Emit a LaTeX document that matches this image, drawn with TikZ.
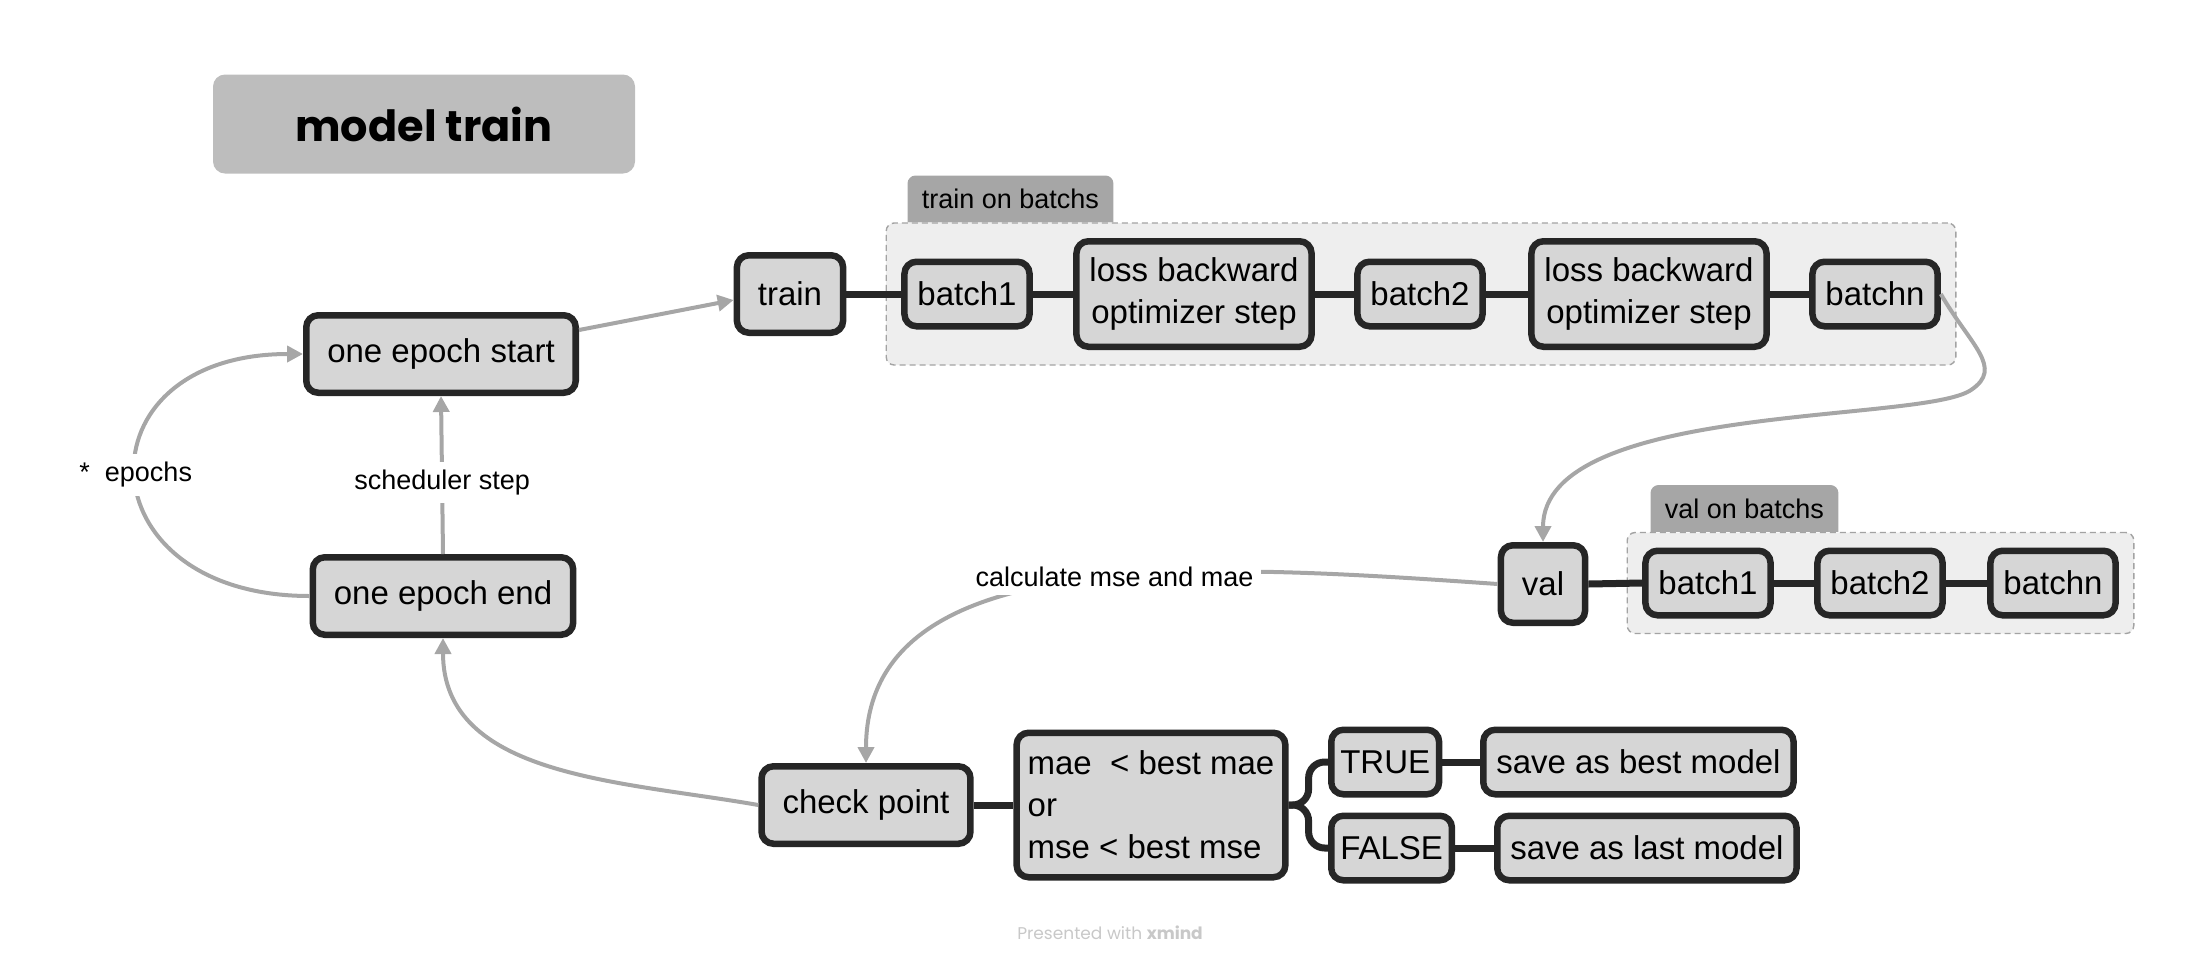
\documentclass[tikz,border=0pt]{standalone}
\usepackage{fontspec}
\setmainfont{Liberation Sans}
\newfontfamily\titlefont{Poppins}
\usetikzlibrary{arrows.meta,positioning,fit,backgrounds}

\definecolor{topicfill}{HTML}{D6D6D6}
\definecolor{topicline}{HTML}{262626}
\definecolor{grpfill}{HTML}{EEEEEE}
\definecolor{grpline}{HTML}{A3A3A3}
\definecolor{tabfill}{HTML}{A6A6A6}
\definecolor{titlefill}{HTML}{BDBDBD}
\definecolor{flowgray}{HTML}{A6A6A6}
\definecolor{wmgray}{HTML}{C8C8C8}

\tikzset{
  topic/.style={draw=topicline, line width=3.25pt, fill=topicfill,
    rounded corners=6pt, font=\fontsize{16.5}{21}\selectfont,
    minimum height=38.75pt, inner xsep=10.5pt},
  subtopic/.style={topic, minimum height=32.25pt, inner xsep=6.5pt},
  link/.style={draw=topicline, line width=3.5pt},
  flow/.style={draw=flowgray, line width=2pt, -{Triangle[length=8pt,width=8pt]}},
  flowlabel/.style={fill=white, font=\fontsize{13.5}{16}\selectfont, inner sep=4pt},
  grpbox/.style={draw=grpline, fill=grpfill, dash pattern=on 3pt off 2pt,
    line width=0.7pt, rounded corners=4pt, inner sep=7.5pt},
  tablabel/.style={font=\fontsize{13.5}{16}\selectfont, minimum height=23pt,
    inner xsep=7pt, anchor=south west}
}

\begin{document}
\begin{tikzpicture}[x=0.5pt,y=0.5pt]
\useasboundingbox (0,0) rectangle (2212,-960);

%title
\node[fill=titlefill, rounded corners=6pt, minimum width=211pt, minimum height=49.5pt,
  font=\titlefont\bfseries\fontsize{21.5}{26}\selectfont] (title) at (424,-124) {model train};

%epoch loop
\node[topic] (oes) at (441,-354) {one epoch start};
\node[topic] (oee) at (443,-596) {one epoch end};

%train on batchs
\node[topic] (train) at (790,-294) {train};
\node[subtopic] (tb1) at (967,-294) {batch1};
\node[subtopic, align=center, minimum height=52.75pt] (tloss1) at (1194,-294) {loss backward\\optimizer step};
\node[subtopic] (tb2) at (1420,-294) {batch2};
\node[subtopic, align=center, minimum height=52.75pt] (tloss2) at (1649,-294) {loss backward\\optimizer step};
\node[subtopic] (tbn) at (1875,-294) {batchn};

%val on batchs
\node[topic] (val) at (1543,-584) {val};
\node[subtopic] (vb1) at (1708,-583) {batch1};
\node[subtopic] (vb2) at (1880,-583) {batch2};
\node[subtopic] (vbn) at (2053,-583) {batchn};

%check point
\node[topic] (ckpt) at (866,-805) {check point};
\node[subtopic, align=left, minimum height=72.25pt, inner xsep=5.5pt] (cond) at (1151,-805)
  {mae\ \ < best mae\\or\\mse < best mse};
\node[subtopic, inner xsep=4.5pt, anchor=west] (ctrue) at (1328,-762) {TRUE};
\node[subtopic, inner xsep=4.5pt, anchor=west] (cfalse) at (1328,-848) {FALSE};
\node[subtopic, anchor=west] (sbest) at (1480,-762) {save as best model};
\node[subtopic, anchor=west] (slast) at (1494,-848) {save as last model};

\begin{scope}[on background layer]
\node[grpbox, fit=(tb1)(tloss1)(tb2)(tloss2)(tbn)] (tgrp) {};
\node[grpbox, fit=(vb1)(vb2)(vbn)] (vgrp) {};
\end{scope}

\node[tablabel] (ttab) at ([xshift=11pt]tgrp.north west) {train on batchs};
\node[tablabel] (vtab) at ([xshift=12pt]vgrp.north west) {val on batchs};
\begin{scope}[on background layer]
\fill[tabfill, rounded corners=4pt] (ttab.south west) -- (ttab.north west) -- (ttab.north east) -- (ttab.south east);
\fill[tabfill, rounded corners=4pt] (vtab.south west) -- (vtab.north west) -- (vtab.north east) -- (vtab.south east);
\end{scope}

%tree lines
\draw[link] (train.east) -- (tb1.west);
\draw[link] (tb1.east) -- (tloss1.west);
\draw[link] (tloss1.east) -- (tb2.west);
\draw[link] (tb2.east) -- (tloss2.west);
\draw[link] (tloss2.east) -- (tbn.west);
\draw[link] (val.east) -- (vb1.west);
\draw[link] (vb1.east) -- (vb2.west);
\draw[link] (vb2.east) -- (vbn.west);
\draw[link] (ckpt.east) -- (cond.west);
\draw[link, rounded corners=8pt] (cond.east) -- ++(20,0) |- (ctrue.west);
\draw[link, rounded corners=8pt] (cond.east) -- ++(20,0) |- (cfalse.west);
\draw[link] (ctrue.east) -- (sbest.west);
\draw[link] (cfalse.east) -- (slast.west);

%relationships
\coordinate (bendv) at (1971,-390);
\draw[flow] ([yshift=12pt]oes.east) -- ([yshift=-3pt]train.west);
\draw[flow] (oee.north) -- node[flowlabel, pos=0.45] (sched) {scheduler step} (oes.south);
\draw[flow] (oee.west) to[out=180,in=180,looseness=2.4] node[flowlabel] (epochs) {*\ \ epochs} (oes.west);
\draw[flow] (tbn.east) to[out=-60,in=34,out distance=30pt,in distance=20pt] (bendv)
  to[out=214,in=90,out distance=30pt,in distance=70pt] (val.north);
\draw[flow] (val.west) to[out=176,in=90,out distance=150pt,in distance=110pt]
  node[flowlabel, pos=0.44] (calc) {calculate mse and mae} (ckpt.north);
\draw[flow] (ckpt.west) to[out=170,in=-90] (oee.south);

\node[text=wmgray, font=\titlefont\fontsize{8.5}{10}\selectfont] (credit) at (1110,-933)
  {Presented with \textbf{xmind}};
\end{tikzpicture}
\end{document}
